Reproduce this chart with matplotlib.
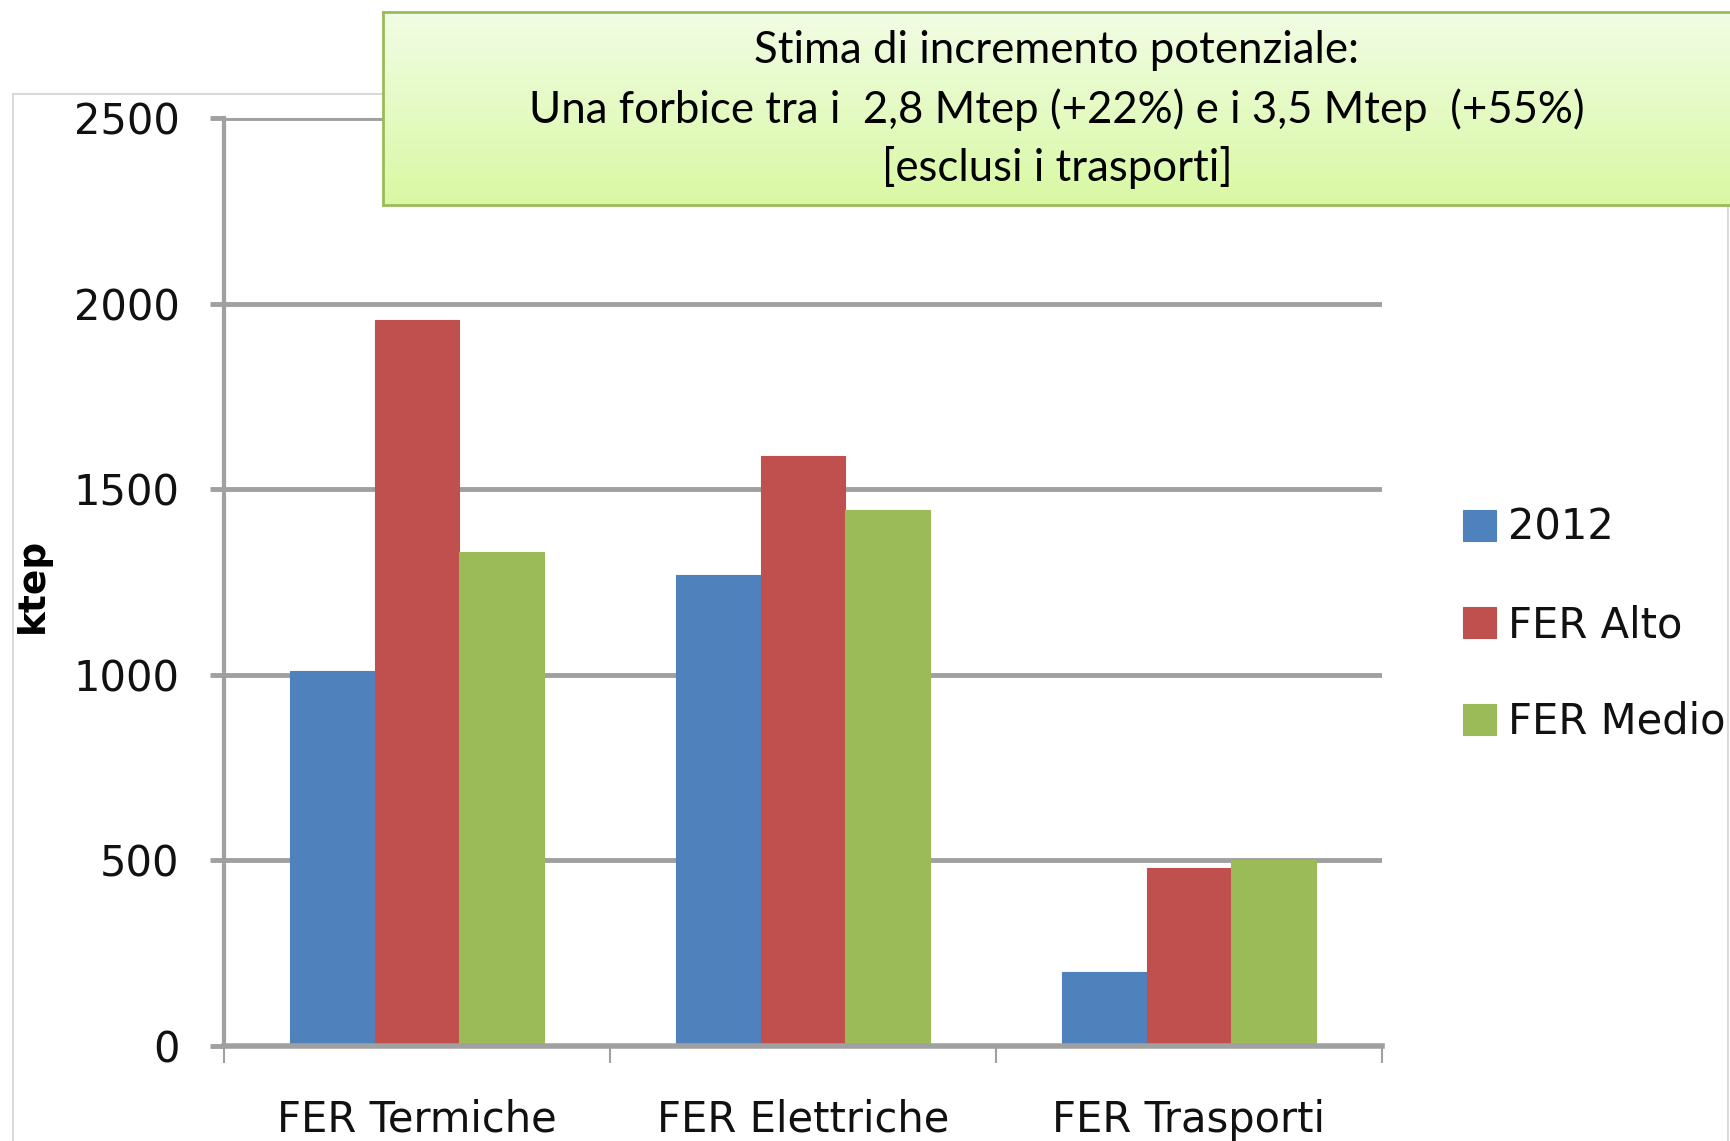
import numpy as np
import matplotlib
matplotlib.use('Agg')
import matplotlib.pyplot as plt
from matplotlib.patches import Rectangle

categories = ["FER Termiche", "FER Elettriche", "FER Trasporti"]
series_names = ["2012", "FER Alto", "FER Medio"]
val_2012 = [1010, 1270, 200]
val_alto = [1955, 1590, 480]
val_medio = [1330, 1445, 500]
colors = ["#4f81bd", "#c0504d", "#9bbb59"]
yticks = [0, 500, 1000, 1500, 2000, 2500]
box_lines = ["Stima di incremento potenziale:",
             "Una forbice tra i  2,8 Mtep (+22%) e i 3,5 Mtep  (+55%)",
             "[esclusi i trasporti]"]

W, H = 1731, 1141
fig = plt.figure(figsize=(W / 100, H / 100), dpi=100)
plt.rcParams['font.family'] = ['DejaVu Sans']

# light frame of the chart area (behind everything)
fig.patches.append(Rectangle((13 / W, 0 - 0.01), (1728 - 13) / W, 1 - 94 / H + 0.01,
                             transform=fig.transFigure, fill=False, zorder=-1,
                             edgecolor="#d9d9d9", linewidth=1.5))

ax = fig.add_axes([224 / W, 1 - 1046 / H, (1382 - 224) / W, (1046 - 118) / H])
ax.set_facecolor("none")

x = np.arange(len(categories))
bw = 0.22
for i, (vals, name) in enumerate(zip([val_2012, val_alto, val_medio], series_names)):
    ax.bar(x + (i - 1) * bw, vals, bw, color=colors[i], label=name, zorder=3,
           edgecolor=colors[i], linewidth=0.8)

ax.set_xlim(-0.5, 2.5)
ax.set_ylim(0, 2500)
ax.set_yticks(yticks)
ax.set_yticklabels([str(v) for v in yticks], fontsize=30, color="#111111")
ax.yaxis.grid(True, color="#a0a0a0", linewidth=3.5, zorder=0)
ax.tick_params(axis='y', length=10, width=3.5, color="#a0a0a0", pad=22)

ax.set_xticks([-0.5, 0.5, 1.5, 2.5])
ax.set_xticklabels([])
ax.tick_params(axis='x', which='major', length=12, width=1.5, color="#a0a0a0")
ax.set_xticks(x, minor=True)
ax.set_xticklabels(categories, minor=True, fontsize=30, color="#111111")
ax.tick_params(axis='x', which='minor', length=0, pad=38)

for s in ["top", "right"]:
    ax.spines[s].set_visible(False)
ax.spines["left"].set_color("#a0a0a0")
ax.spines["left"].set_linewidth(3)
ax.spines["bottom"].set_color("#a0a0a0")
ax.spines["bottom"].set_linewidth(4)
ax.spines["bottom"].set_zorder(4)

fig.text(33 / W, 1 - 585 / H, "ktep", rotation=90, fontsize=27, fontweight="bold",
         ha="center", va="center")

leg = ax.legend(loc="center left", bbox_to_anchor=(1463 / W, 1 - 625 / H),
                bbox_transform=fig.transFigure, frameon=False, fontsize=30,
                handlelength=0.8, handleheight=0.8, handletextpad=0.27,
                labelspacing=1.32, borderpad=0, borderaxespad=0)
for t in leg.get_texts():
    t.set_color("#111111")

# annotation box with gradient
box_w = (W - 383) / W + 0.01
bx = fig.add_axes([383 / W, 1 - 205 / H, box_w, 193 / H])
top_c = np.array([0.945, 0.99, 0.895])
bot_c = np.array([0.85, 0.975, 0.64])
t = np.linspace(0, 1, 256)[:, None]
grad = (top_c[None, :] * (1 - t) + bot_c[None, :] * t)[:, None, :]
bx.imshow(grad, aspect="auto", extent=[0, 1, 0, 1], origin="upper")
bx.set_xlim(0, 1)
bx.set_ylim(0, 1)
bx.set_xticks([])
bx.set_yticks([])
for s in bx.spines.values():
    s.set_color("#9bbb59")
    s.set_linewidth(2)
bx.spines["right"].set_visible(False)
cx = (1057 - 383) / W / box_w
for line, yy in zip(box_lines, [0.803, 0.492, 0.192]):
    bx.text(cx, yy, line, ha="center", va="center", fontsize=31.5,
            family=["Lato", "DejaVu Sans"], color="black")

fig.savefig("out.png", dpi=100)
